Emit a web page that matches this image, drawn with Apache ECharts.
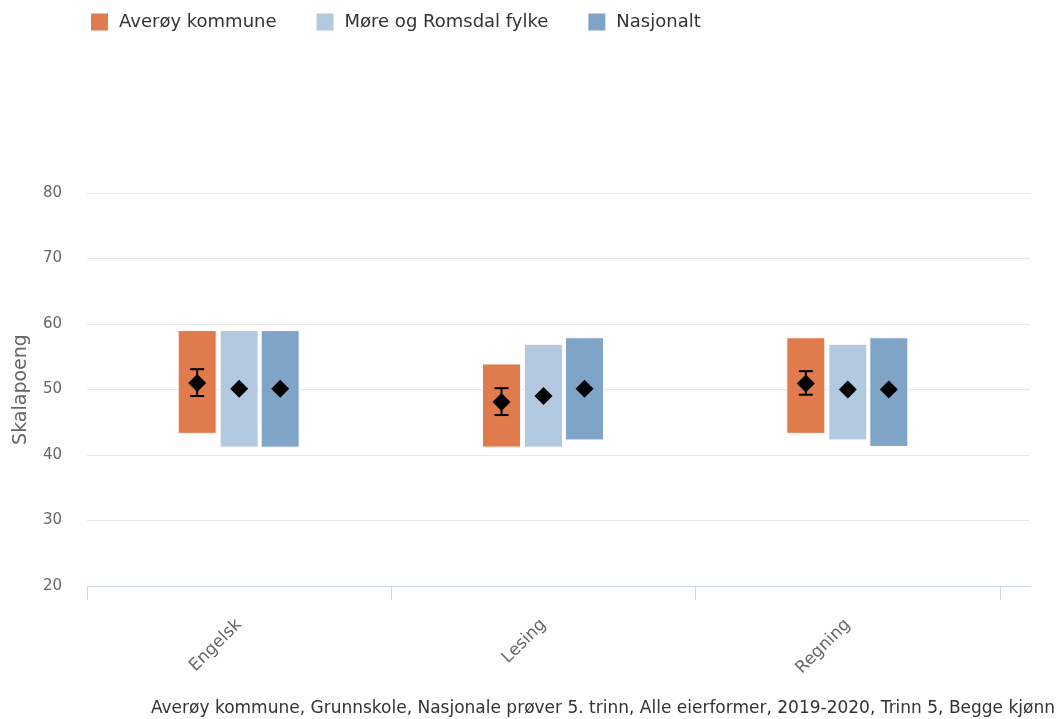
<!DOCTYPE html>
<html>
<head>
<meta charset="utf-8">
<script src="https://cdn.jsdelivr.net/npm/echarts@6/dist/echarts.min.js"></script>
<style>
  html, body { margin: 0; padding: 0; background: #fff; }
  #chart { width: 1057px; height: 719px; }
</style>
</head>
<body>
<div id="chart"></div>
<script>
var categories = ['Engelsk', 'Lesing', 'Regning'];
var seriesNames = ['Averøy kommune', 'Møre og Romsdal fylke', 'Nasjonalt'];
var yTicks = [20, 30, 40, 50, 60, 70, 80];

// spenn (lav - høy) og gjennomsnitt per serie
var averoyLow = [43.3, 41.2, 43.3];
var averoyHigh = [59, 53.9, 57.9];
var averoyMean = [51, 48.1, 50.9];
var averoyErrLow = [49, 46.1, 49.2];
var averoyErrHigh = [53.1, 50.2, 52.8];

var moreLow = [41.2, 41.2, 42.3];
var moreHigh = [59, 56.9, 56.9];
var moreMean = [50.1, 49, 50];

var nasjLow = [41.2, 42.3, 41.3];
var nasjHigh = [59, 57.9, 57.9];
var nasjMean = [50.1, 50.1, 50];

var footer = 'Averøy kommune, Grunnskole, Nasjonale prøver 5. trinn, Alle eierformer, 2019-2020, Trinn 5, Begge kjønn';

var colors = ['#e07b4e', '#b3c9df', '#7fa4c8'];
var FONT = 'DejaVu Sans';

(function () {
    var chart = echarts.init(document.getElementById('chart'));

    function buildData(low, high, mean, errLow, errHigh) {
        var out = [];
        for (var i = 0; i < categories.length; i++) {
            out.push([i, low[i], high[i], mean[i],
                errLow ? errLow[i] : null, errHigh ? errHigh[i] : null]);
        }
        return out;
    }

    function makeRender(offset, color) {
        return function (params, api) {
            var idx = api.value(0);
            var top = api.coord([idx, api.value(2)]);
            var bottom = api.coord([idx, api.value(1)]);
            var mid = api.coord([idx, api.value(3)]);
            var cx = top[0] + offset;
            var w = 38, d = 9;
            var children = [{
                type: 'rect',
                shape: {x: cx - w / 2, y: top[1], width: w, height: bottom[1] - top[1]},
                style: {fill: color, stroke: '#ffffff', lineWidth: 1}
            }];
            if (api.value(4) != null && !isNaN(api.value(4))) {
                var eTop = api.coord([idx, api.value(5)])[1];
                var eBot = api.coord([idx, api.value(4)])[1];
                var ls = {stroke: '#000', lineWidth: 2};
                children.push({type: 'line', shape: {x1: cx, y1: eTop, x2: cx, y2: eBot}, style: ls});
                children.push({type: 'line', shape: {x1: cx - 7, y1: eTop, x2: cx + 7, y2: eTop}, style: ls});
                children.push({type: 'line', shape: {x1: cx - 7, y1: eBot, x2: cx + 7, y2: eBot}, style: ls});
            }
            children.push({
                type: 'polygon',
                shape: {points: [[cx, mid[1] - d], [cx + d, mid[1]], [cx, mid[1] + d], [cx - d, mid[1]]]},
                style: {fill: '#000'}
            });
            return {type: 'group', children: children};
        };
    }

    var offsets = [-42, 0, 41];
    var datasets = [
        buildData(averoyLow, averoyHigh, averoyMean, averoyErrLow, averoyErrHigh),
        buildData(moreLow, moreHigh, moreMean),
        buildData(nasjLow, nasjHigh, nasjMean)
    ];

    var series = [];
    for (var s = 0; s < 3; s++) {
        series.push({
            name: seriesNames[s],
            type: 'custom',
            xAxisIndex: 1,
            yAxisIndex: 1,
            itemStyle: {color: colors[s]},
            renderItem: makeRender(offsets[s], colors[s]),
            encode: {x: 0, y: [1, 2]},
            data: datasets[s],
            z: 3
        });
    }

    var option = {
        animation: false,
        textStyle: {fontFamily: FONT},
        legend: {
            left: 86,
            top: 8,
            icon: 'rect',
            itemWidth: 17,
            itemHeight: 17,
            itemGap: 40,
            textStyle: {fontFamily: FONT, fontSize: 18, color: '#333', padding: [0, 0, 0, 6]},
            data: seriesNames
        },
        grid: [
            {left: 87, right: 27, top: 193, bottom: 133},
            {left: 87, width: 913, top: 193, bottom: 133}
        ],
        xAxis: [
            {
                type: 'value', gridIndex: 0, min: 0, max: 1,
                axisLine: {show: true, lineStyle: {color: '#ccd6eb', width: 1}},
                axisTick: {show: false}, axisLabel: {show: false}, splitLine: {show: false}
            },
            {
                type: 'category', gridIndex: 1, data: categories,
                axisLine: {show: false},
                axisTick: {show: true, length: 14, lineStyle: {color: '#ccd6eb'}},
                axisLabel: {rotate: 45, margin: 36, fontSize: 17, color: '#666', fontFamily: FONT}
            }
        ],
        yAxis: [
            {
                type: 'value', gridIndex: 0, min: yTicks[0], max: yTicks[yTicks.length - 1], interval: 10,
                name: 'Skalapoeng', nameLocation: 'middle', nameGap: 56,
                nameTextStyle: {fontSize: 19, color: '#666', fontFamily: FONT},
                axisLine: {show: false}, axisTick: {show: false},
                axisLabel: {fontSize: 15, color: '#666', margin: 25, fontFamily: FONT},
                splitLine: {lineStyle: {color: '#e6e6e6', width: 1}}
            },
            {
                type: 'value', gridIndex: 1, min: yTicks[0], max: yTicks[yTicks.length - 1], interval: 10,
                show: false, splitLine: {show: false}
            }
        ],
        graphic: [{
            type: 'text',
            right: 2,
            bottom: 2,
            style: {text: footer, fontSize: 17, fill: '#333', fontFamily: FONT}
        }],
        series: series
    };

    chart.setOption(option);
})();
</script>
</body>
</html>
